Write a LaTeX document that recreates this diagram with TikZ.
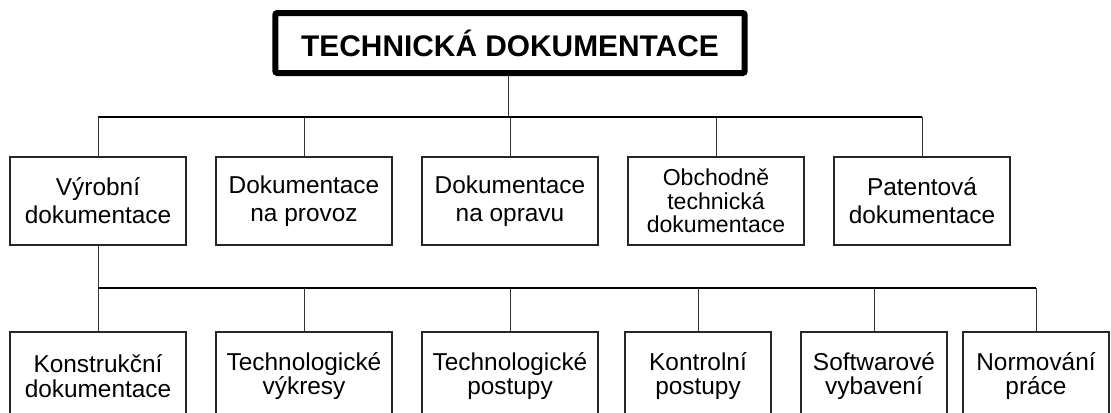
\documentclass[tikz,border=0pt]{standalone}
\usepackage{fontspec}
\setmainfont{Liberation Sans}

\begin{document}
\begin{tikzpicture}[x=0.75pt,y=-0.75pt,
  titlebox/.style={draw,line width=4.5pt,rounded corners=1.5pt,minimum width=352pt,minimum height=45pt,font=\bfseries\fontsize{22.4}{26}\selectfont},
  docbox/.style={draw=black!85,line width=0.9pt,minimum width=132pt,minimum height=66pt,inner sep=0pt,align=center,font=\fontsize{18.3}{21}\selectfont},
  subbox/.style={docbox,font=\fontsize{18.3}{18.5}\selectfont},
  narrowbox/.style={subbox,minimum width=109.5pt},
  link/.style={-,draw=black!80,line width=0.75pt},
  bus/.style={-,draw=black,line width=1.2pt}]
 \useasboundingbox (0,0) rectangle (1111,412);
 \clip (0,0) rectangle (1111,412);

 \draw (510,43) node[titlebox] (tech) {TECHNICKÁ DOKUMENTACE};

 % first level
  \draw (98,201) node[docbox] (vyrobni) {Výrobní\\dokumentace};
  \draw (304,201) node[docbox] (provoz) {Dokumentace\\na provoz};
  \draw (510,201) node[docbox] (oprava) {Dokumentace\\na opravu};
  \draw (716,201) node[docbox,font=\fontsize{17.3}{17.5}\selectfont] (obchod) {Obchodně\\technická\\dokumentace};
  \draw (922,201) node[docbox] (patent) {Patentová\\dokumentace};

 % second level
  \draw (98,376) node[subbox] (konstr) {Konstrukční\\dokumentace};
  \draw (304,376) node[subbox] (vykresy) {Technologické\\výkresy};
  \draw (510,376) node[subbox] (postupy) {Technologické\\postupy};
  \draw (698,376) node[narrowbox] (kontrol) {Kontrolní\\postupy};
  \draw (874,376) node[narrowbox] (software) {Softwarové\\vybavení};
  \draw (1036,376) node[narrowbox] (normy) {Normování\\práce};

  \coordinate (bus1) at (508,117);
  \coordinate (bus2) at (98,288);

     \path[link] (tech.south -| bus1) edge (bus1);
     \draw[bus] (vyrobni |- bus1) -- (patent |- bus1);
     \foreach \n in {vyrobni,provoz,oprava,obchod,patent}
       \path[link] (\n) edge (\n |- bus1);

     \path[link] (vyrobni) edge (konstr);
     \draw[bus] (konstr |- bus2) -- (normy |- bus2);
     \foreach \n in {vykresy,postupy,kontrol,software,normy}
       \path[link] (\n) edge (\n |- bus2);
\end{tikzpicture}
\end{document}
